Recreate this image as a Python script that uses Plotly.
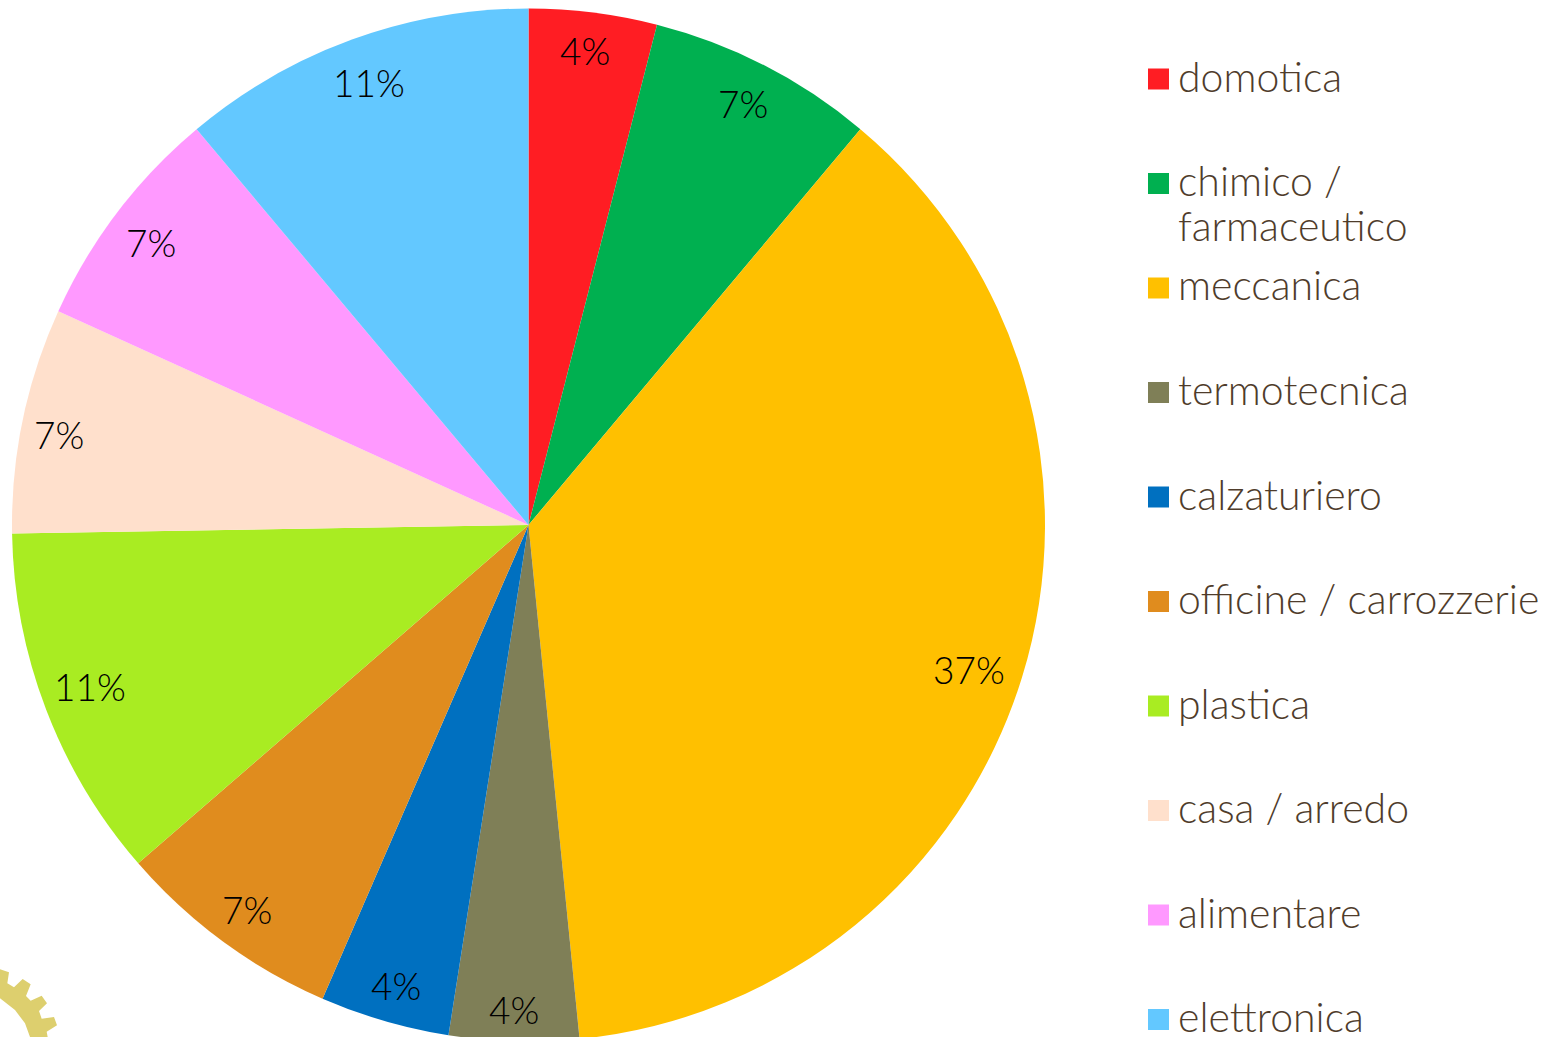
import math
import plotly.graph_objects as go

categories = ["domotica", "chimico /<br>farmaceutico", "meccanica", "termotecnica", "calzaturiero",
              "officine / carrozzerie", "plastica", "casa / arredo", "alimentare", "elettronica"]
shares = [4, 7.1, 37.3, 4.05, 4.05, 7.1, 11.1, 7.05, 7.1, 11.1]
colors = ["#FF1D23", "#00B050", "#FFC000", "#7F7F57", "#0070C0",
          "#E08C1E", "#A9EC22", "#FFE0CC", "#FF99FF", "#63C8FF"]
label_radii = [477, 472, 465, 486, 481, 477, 467, 478, 471, 468]
label_nudges = [(-3, -1), (-1, -2), (-4, 7), (-1, -1), (2, -1), (1, 0), (-2, -5), (-2, 7), (-3, 2), (0, -3)]

W, H = 1553, 1050
CX, CY, R = 528.5, 525, 516.5
FONT = "Lato Light, Lato"
TEXT = "#4F3C2B"
LEG_X0, LEG_Y0, LEG_DY, SW, LINE_DY = 1148, 76, 104.5, 21, 45
SWATCH_Y0 = 79
GEAR = [(0, 88), (27, 97), (22, 130), (42, 142), (68, 117), (92, 133), (78, 168), (92, 182), (125, 167),
        (141, 190), (117, 213), (125, 236), (162, 231), (171, 256), (140, 275), (143, 291), (143, 330),
        (90, 330), (90, 291), (75, 250), (45, 210), (0, 175)]


def px(x):
    return x / W


def py(y):
    return 1 - y / H


fig = go.Figure(go.Pie(
    labels=[c.replace("<br>", " ") for c in categories],
    values=shares,
    sort=False,
    direction="clockwise",
    rotation=0,
    marker=dict(colors=colors, line=dict(width=0)),
    textinfo="none",
    hoverinfo="label+percent",
    showlegend=False,
    domain=dict(x=[px(CX - R), px(CX + R)], y=[py(CY + R), py(CY - R)]),
))

annotations, shapes = [], []
total = sum(shares)
cum = 0
for s, r, (dx, dy) in zip(shares, label_radii, label_nudges):
    a = math.radians((cum + s / 2) / total * 360)
    cum += s
    annotations.append(dict(
        x=px(CX + r * math.sin(a) + dx), y=py(CY - r * math.cos(a) + dy),
        xref="paper", yref="paper", xanchor="center", yanchor="middle", showarrow=False,
        text=f"{round(s / total * 100)}%", font=dict(family=FONT, size=37, color="#000000"),
    ))

for i, (c, col) in enumerate(zip(categories, colors)):
    y = LEG_Y0 + i * LEG_DY
    sy = SWATCH_Y0 + i * LEG_DY
    shapes.append(dict(type="rect", xref="paper", yref="paper", line_width=0, fillcolor=col,
                       x0=px(LEG_X0), x1=px(LEG_X0 + SW), y0=py(sy - SW / 2), y1=py(sy + SW / 2)))
    for j, line in enumerate(c.split("<br>")):
        annotations.append(dict(
            x=px(LEG_X0 + SW + 8), y=py(y + j * LINE_DY), xref="paper", yref="paper",
            xanchor="left", yanchor="middle", align="left", showarrow=False, borderpad=0,
            text=line, font=dict(family=FONT, size=41, color=TEXT),
        ))

path = "M" + " L".join(f"{px(x / 3)},{py(940 + y / 3)}" for x, y in GEAR) + " Z"
shapes.append(dict(type="path", path=path, xref="paper", yref="paper", fillcolor="#DDCF6E", line_width=0, layer="below"))

fig.update_layout(width=W, height=H, margin=dict(l=0, r=0, t=0, b=0), paper_bgcolor="#FFFFFF",
                  annotations=annotations, shapes=shapes)
fig.write_html("out.html", config={"displayModeBar": False}, post_script="document.documentElement.style.overflow='hidden';document.body.style.margin='0';document.body.style.overflow='hidden';")
